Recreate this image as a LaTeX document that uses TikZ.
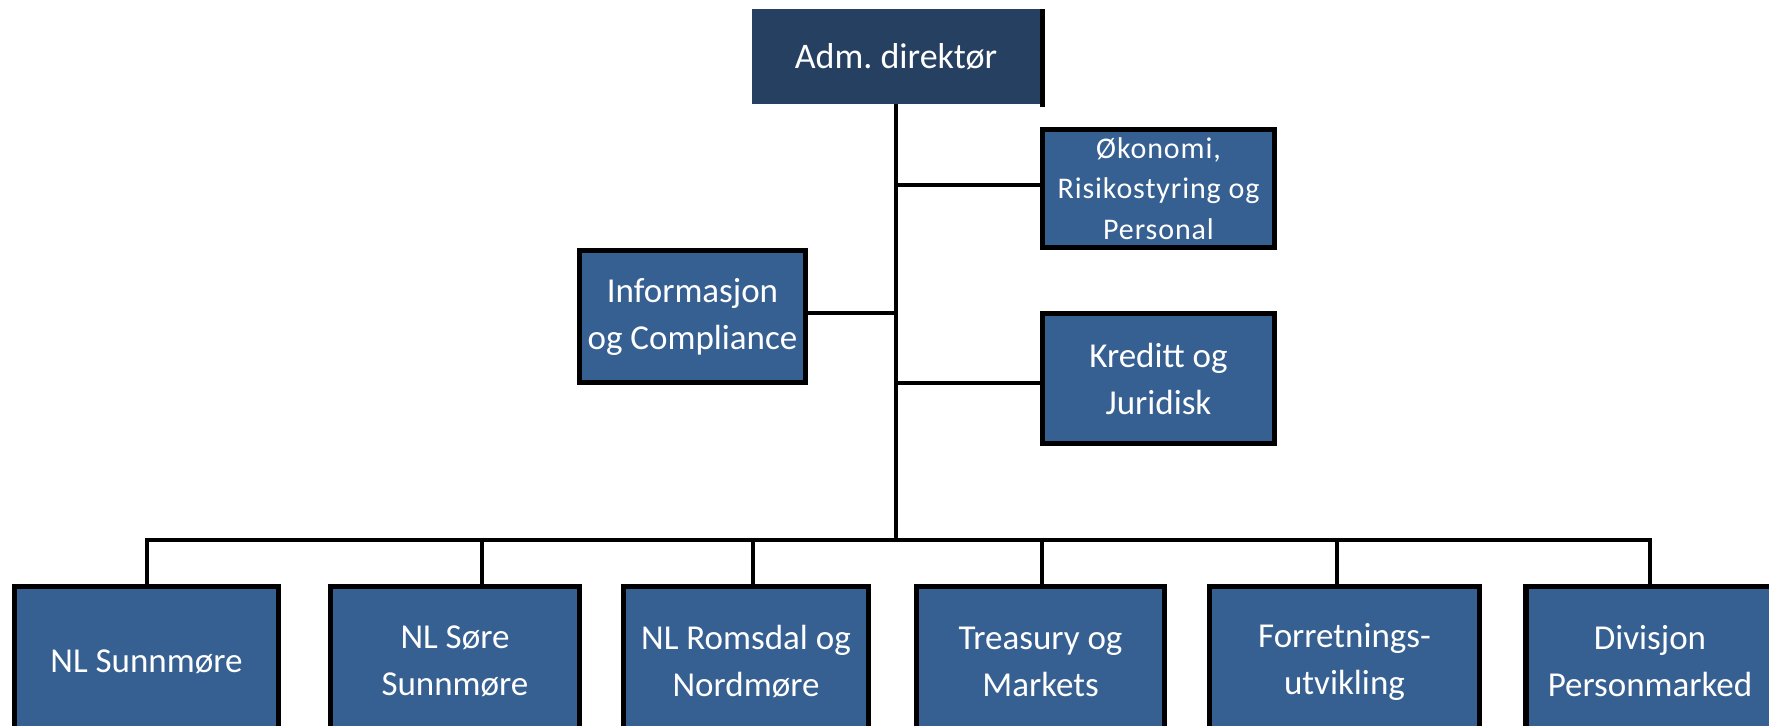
\documentclass[tikz,border=0pt]{standalone}
\usepackage{fontspec}
\setmainfont{Carlito}
\definecolor{boxblue}{HTML}{376092}
\definecolor{topblue}{HTML}{254061}
\begin{document}
\begin{tikzpicture}[x=0.5pt,y=-0.5pt,
  unit/.style={rectangle, fill=boxblue, draw=black, line width=2.6pt, text=white,
    align=center, inner sep=0pt, font=\fontsize{17.5}{23.5}\selectfont},
  conn/.style={draw=black, line width=1.6pt}]
\clip (0,0) rectangle (1769,725);
\fill[white] (0,0) rectangle (1769,725);
% top box
\node[unit, draw=none, outer sep=0pt, fill=topblue, minimum width=144pt, minimum height=47.5pt,
  font=\fontsize{18}{22}\selectfont] (adm) at (896,56.5) {Adm.\ direktør};
\draw[line width=2.4pt] ([xshift=1.1pt]adm.north east) -- ([xshift=1.1pt,yshift=-1.5pt]adm.south east);
% staff boxes
\node[unit, minimum width=116pt, minimum height=59pt,
  font=\fontsize{15}{20.3}\selectfont\addfontfeatures{LetterSpace=3}] (oko) at (1158.5,188.5)
  {Økonomi,\\Risikostyring og\\Personal};
\node[unit, minimum width=113pt, minimum height=66pt] (info) at (692.5,316.5)
  {Informasjon\\og Compliance};
\node[unit, minimum width=116pt, minimum height=65pt] (kred) at (1158.5,378.5)
  {Kreditt og\\Juridisk};
% bottom boxes
\node[unit, minimum width=132pt, minimum height=75pt] (b1) at (146.5,661.5) {NL Sunnmøre};
\node[unit, minimum width=124.5pt, minimum height=75pt] (b2) at (455,661.5) {NL Søre\\Sunnmøre};
\node[unit, minimum width=122.5pt, minimum height=75pt] (b3) at (746,661.5) {NL Romsdal og\\Nordmøre};
\node[unit, minimum width=124pt, minimum height=75pt] (b4) at (1040.5,661.5) {Treasury og\\Markets};
\node[unit, minimum width=135pt, minimum height=75pt] (b5) at (1344.5,661.5) {Forretnings-\\utvikling};
\node[unit, minimum width=124pt, minimum height=75pt] (b6) at (1650,661.5) {Divisjon\\Personmarked};
% connectors
\coordinate (bus) at (896,540);
\coordinate (j1) at (896,185);
\coordinate (j2) at (896,313);
\coordinate (j3) at (896,383);
\coordinate (d1) at (147,540);
\coordinate (d2) at (482,540);
\coordinate (d3) at (753,540);
\coordinate (d4) at (1042,540);
\coordinate (d5) at (1337,540);
\coordinate (d6) at (1650,540);
\draw[conn] (adm.south) -- (bus);
\draw[conn] (j1) -- (j1 -| oko.west);
\draw[conn] (j2) -- (j2 -| info.east);
\draw[conn] (j3) -- (j3 -| kred.west);
\draw[conn] (b1.north -| d1) -- (d1) -- (d6) -- (b6.north -| d6);
\draw[conn] (d2) -- (b2.north -| d2);
\draw[conn] (d3) -- (b3.north -| d3);
\draw[conn] (d4) -- (b4.north -| d4);
\draw[conn] (d5) -- (b5.north -| d5);
\end{tikzpicture}
\end{document}
